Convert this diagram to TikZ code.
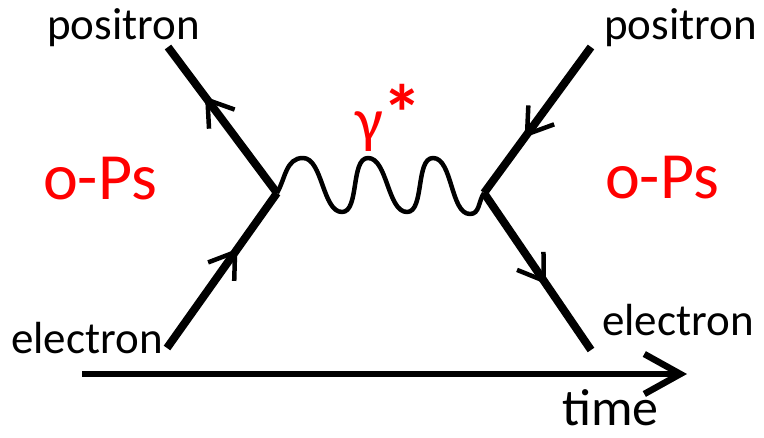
\documentclass[tikz,border=0pt]{standalone}
\usepackage{fontspec}
\setmainfont{Carlito}
\usepackage{xcolor}
\usepackage{tikz}
\usetikzlibrary{calc,arrows.meta,positioning,decorations.markings}

\begin{document}
\begin{tikzpicture}[x=1pt, y=-1pt, line join=round,
    fermion/.style={black, line width=8pt, postaction={decorate},
      decoration={markings, mark=at position #1 with
        {\arrow[line width=4.5pt]{Straight Barb[length=24pt,width=32pt]}}}},
    photon/.style={black, line width=4.5pt},
    timeaxis/.style={black, line width=6.5pt, -{Straight Barb[length=36pt,width=40pt]}},
    partlbl/.style={font=\fontsize{45}{50}\selectfont, inner sep=0pt},
    pslbl/.style={font=\fontsize{66}{70}\selectfont, text=red, inner sep=0pt}]

\useasboundingbox (0,0) rectangle (764,437);

% ---------------------------------------------------------
% Vertices and external ends
% ---------------------------------------------------------
\coordinate (vL) at (277,193);      % left vertex
\coordinate (vR) at (484,193);      % right vertex
\coordinate (eL) at (167,348);      % incoming electron
\coordinate (posL) at (168,47);     % incoming positron (drawn backwards)
\coordinate (posR) at (591,47);     % outgoing positron
\coordinate (eR) at (591,350);      % outgoing electron

% ---------------------------------------------------------
% Fermion lines
% ---------------------------------------------------------
\draw[fermion=0.64] (eL) -- (vL);
\draw[fermion=0.66] (vL) -- (posL);
\draw[fermion=0.62] (posR) -- (vR);
\draw[fermion=0.58] (vR) -- (eR);

% ---------------------------------------------------------
% Virtual photon
% ---------------------------------------------------------
\draw[photon] (vL) to[out=60,in=180] (303,158)
    to[out=0,in=180,looseness=0.75] (342,212)
    to[out=0,in=180,looseness=0.75] (368,158)
    to[out=0,in=180,looseness=0.75] (407,212)
    to[out=0,in=180,looseness=0.75] (433,158)
    to[out=0,in=180,looseness=0.75] (470,214)
    to[out=0,in=-125] (vR);

\node[anchor=base west, font=\fontsize{62}{66}\selectfont, text=red, inner sep=0pt]
    (gam) at (355,141) {γ{\fontsize{80}{80}\selectfont\bfseries *}};

% ---------------------------------------------------------
% Time axis
% ---------------------------------------------------------
\coordinate (tS) at (82,374);
\coordinate (tE) at (687,374);
\draw[timeaxis] (tS) -- (tE);
\node[anchor=base west, font=\fontsize{52}{58}\selectfont, inner sep=0pt, text depth=0pt]
    (time) at (562,425) {time};

% ---------------------------------------------------------
% Labels
% ---------------------------------------------------------
\node[partlbl, anchor=base west] (lblPosL) at (47,39) {positron};
\node[partlbl, anchor=base west] (lblPosR) at (604,39) {positron};
\node[partlbl, anchor=base west] (lblEL) at (11,353) {electron};
\node[partlbl, anchor=base west] (lblER) at (602,335) {electron};
\node[pslbl, anchor=base] (psL) at (100,199) {o-Ps};
\node[pslbl, anchor=base] (psR) at (662,198) {o-Ps};

\end{tikzpicture}
\end{document}
